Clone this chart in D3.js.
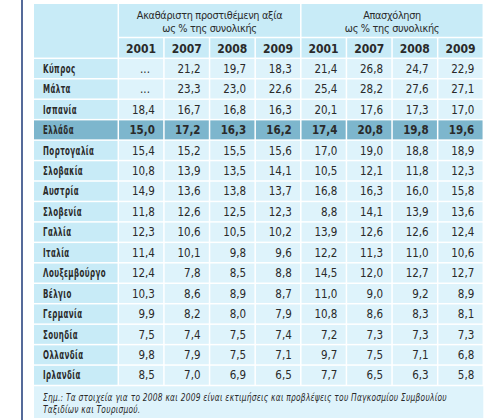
<!DOCTYPE html>
<html>
<head>
<meta charset="utf-8">
<script src="https://cdn.jsdelivr.net/npm/d3@7"></script>
<style>
  html, body { margin: 0; padding: 0; background: #ffffff; }
  svg { display: block; }
  text { font-family: "Liberation Sans Narrow", "DejaVu Sans Condensed", "Liberation Sans", sans-serif; fill: #2a2a2a; }
</style>
</head>
<body>
<svg id="chart" width="503" height="420"></svg>
<script>
// ---- data ----
const countries = ["Κύπρος","Μάλτα","Ισπανία","Ελλάδα","Πορτογαλία","Σλοβακία","Αυστρία","Σλοβενία","Γαλλία","Ιταλία","Λουξεμβούργο","Βέλγιο","Γερμανία","Σουηδία","Ολλανδία","Ιρλανδία"];
const years = ["2001","2007","2008","2009"];
const groupTitles = [["Ακαθάριστη προστιθέμενη αξία","ως % της συνολικής"],["Απασχόληση","ως % της συνολικής"]];
const gva2001 = [null,null,18.4,15.0,15.4,10.8,14.9,11.8,12.3,11.4,12.4,10.3,9.9,7.5,9.8,8.5];
const gva2007 = [21.2,23.3,16.7,17.2,15.2,13.9,13.6,12.6,10.6,10.1,7.8,8.6,8.2,7.4,7.9,7.0];
const gva2008 = [19.7,23.0,16.8,16.3,15.5,13.5,13.8,12.5,10.5,9.8,8.5,8.9,8.0,7.5,7.5,6.9];
const gva2009 = [18.3,22.6,16.3,16.2,15.6,14.1,13.7,12.3,10.2,9.6,8.8,8.7,7.9,7.4,7.1,6.5];
const emp2001 = [21.4,25.4,20.1,17.4,17.0,10.5,16.8,8.8,13.9,12.2,14.5,11.0,10.8,7.2,9.7,7.7];
const emp2007 = [26.8,28.2,17.6,20.8,19.0,12.1,16.3,14.1,12.6,11.3,12.0,9.0,8.6,7.3,7.5,6.5];
const emp2008 = [24.7,27.6,17.3,19.8,18.8,11.8,16.0,13.9,12.6,11.0,12.7,9.2,8.3,7.3,7.1,6.3];
const emp2009 = [22.9,27.1,17.0,19.6,18.9,12.3,15.8,13.6,12.4,10.6,12.7,8.9,8.1,7.3,6.8,5.8];
const highlight = "Ελλάδα";
const noteLines = ["Σημ.: Τα στοιχεία για το 2008 και 2009 είναι εκτιμήσεις και προβλέψεις του Παγκοσμίου Συμβουλίου","Ταξιδίων και Τουρισμού."];

const series = [gva2001,gva2007,gva2008,gva2009,emp2001,emp2007,emp2008,emp2009];
const colKeys = series.map((d,i)=>"c"+i);

// ---- layout ----
const svg = d3.select("#chart");
const left = 34, labelRight = 118.3, right = 483.3;
const headTop = 4, head1Bottom = 37.5, headBottom = 58.3, bodyBottom = 385.5, noteBottom = 418;
const colorHead = "#c8ebf7", colorLabel = "#c8ebf7", colorCell = "#def3fb", colorHi = "#7db6cd";

const x = d3.scaleBand().domain(colKeys).range([labelRight, right]).paddingInner(0).paddingOuter(0);
const y = d3.scaleBand().domain(countries).range([headBottom, bodyBottom]);
const fmt = v => v == null ? "..." : d3.format(".1f")(v).replace(".", ",");

function fitSpacing(sel, target) {
  const n = sel.text().length;
  sel.attr("letter-spacing", 0);
  const w = sel.node().getComputedTextLength();
  return Math.max(-0.3, (target - w) / n);
}
// horizontal squeeze factor so that a text reaches a target width
function squeeze(text, size, ls, target, weight, style) {
  const p = svg.append("text").attr("font-size", size).attr("font-weight", weight || "normal")
    .attr("font-style", style || "normal").attr("letter-spacing", ls).text(text);
  const w = p.node().getComputedTextLength();
  p.remove();
  return Math.min(1, target / w);
}

// left rule
svg.append("line").attr("x1",22).attr("x2",22).attr("y1",0).attr("y2",420)
  .attr("stroke","#1d3877").attr("stroke-width",1.5);

const gap = 1.5;
svg.append("rect").attr("x",left).attr("y",headTop).attr("width",labelRight-left-gap/2).attr("height",headBottom-headTop-gap/2).attr("fill",colorHead);
const titleTargets = [[135, 87],[54, 87]];
[0,1].forEach(g=>{
  const x0 = x(colKeys[g*4]), x1 = x(colKeys[g*4+3]) + x.bandwidth();
  svg.append("rect").attr("x",x0+gap/2).attr("y",headTop).attr("width",x1-x0-gap).attr("height",head1Bottom-headTop-gap/2).attr("fill",colorHead);
  const cx = (x0+x1)/2;
  groupTitles[g].forEach((t,i)=>{
    const tx = svg.append("text").attr("x",cx).attr("y",19+i*13.2).attr("text-anchor","middle")
      .attr("font-size",10.8).text(t);
    tx.attr("letter-spacing", fitSpacing(tx, titleTargets[g][i]));
  });
});
colKeys.forEach((k,i)=>{
  svg.append("rect").attr("x",x(k)+gap/2).attr("y",head1Bottom+gap/2).attr("width",x.bandwidth()-gap).attr("height",headBottom-head1Bottom-gap).attr("fill",colorHead);
  svg.append("text").attr("x",x(k)+x.bandwidth()/2).attr("y",52.5).attr("text-anchor","middle")
    .attr("font-size",12).attr("font-weight","bold").text(years[i%4]);
});

const labelLs = 0.6, labelSize = 11.5;
const labelK = squeeze("Λουξεμβούργο", labelSize, labelLs, 63, "bold");

countries.forEach((c,r)=>{
  const hi = c === highlight;
  const y0 = y(c)+gap/2, h = y.bandwidth()-gap;
  const ty = y(c)+y.bandwidth()/2+4.2;
  svg.append("rect").attr("x",left).attr("y",y0).attr("width",labelRight-left-gap/2).attr("height",h).attr("fill",hi?colorHi:colorLabel);
  svg.append("text").attr("transform",`translate(${left+9},${ty}) scale(${labelK},1)`)
    .attr("font-size",labelSize).attr("font-weight","bold").attr("letter-spacing",labelLs).text(c);
  colKeys.forEach((k,i)=>{
    svg.append("rect").attr("x",x(k)+gap/2).attr("y",y0).attr("width",x.bandwidth()-gap).attr("height",h).attr("fill",hi?colorHi:colorCell);
    const v = series[i][r];
    svg.append("text").attr("x",x(k)+x.bandwidth()-9 - (v==null?5:0)).attr("y",ty)
      .attr("text-anchor","end").attr("font-size",11.5).attr("font-weight",hi?"bold":"normal").text(fmt(v));
  });
});

// note area
svg.append("rect").attr("x",left).attr("y",bodyBottom+gap/2).attr("width",right-left).attr("height",noteBottom-bodyBottom-gap/2).attr("fill",colorCell);
const noteSize = 10, noteLs = 0.3;
const noteK = squeeze(noteLines[0], noteSize, noteLs, 404, "normal", "italic");
noteLines.forEach((t,i)=>{
  svg.append("text").attr("transform",`translate(${left+9},${401+i*11.5}) scale(${noteK},1)`)
    .attr("font-size",noteSize).attr("font-style","italic").attr("letter-spacing",noteLs)
    .attr("fill","#333").text(t);
});
</script>
</body>
</html>
